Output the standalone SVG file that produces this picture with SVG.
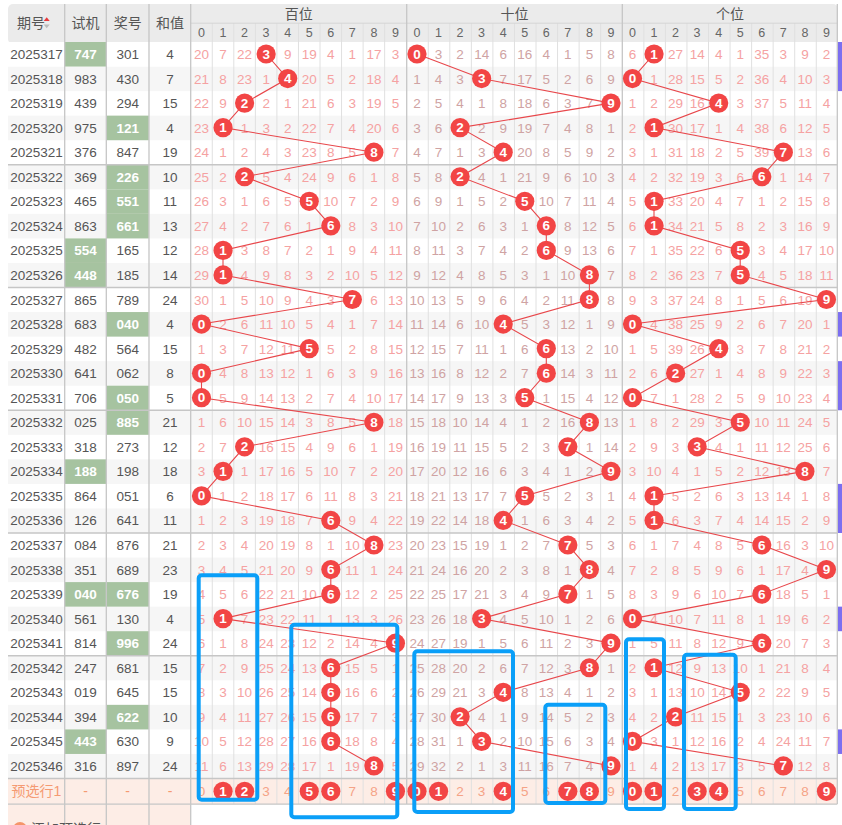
<svg xmlns="http://www.w3.org/2000/svg" width="842" height="825" viewBox="0 0 842 825">
<style>
text{font-family:"Liberation Sans","Noto Sans CJK SC",sans-serif}
.c{text-anchor:middle;dominant-baseline:central}
.hd{font-size:14px;fill:#555}
.hn{font-size:12.5px;fill:#666}
.info{font-size:13.5px;fill:#555}
.gw{fill:#fff;font-weight:bold}
.mh{font-size:13.5px;fill:#f5a2a2}
.mt{font-size:13.5px;fill:#cfa3a3}
.pv{font-size:13.5px;fill:#f5a386}
.pl{font-size:14px;fill:#f59a72}
.ball{fill:#f24545}
.ball text{fill:#fff;font-weight:bold;font-size:13.5px;text-anchor:middle;dominant-baseline:central}
.conn polyline{fill:none;stroke:#e8474b;stroke-width:1.1}
.blue rect{fill:none;stroke:#0a9ff8;stroke-width:4}
.grp{stroke:#c6c6c6;stroke-width:1.3}
</style>
<defs>
<circle id="bc" r="9.6" fill="#f24545"/>
</defs>
<rect x="0" y="0" width="842" height="825" fill="#fff"/>
<g id="grid">
<rect x="8" y="4" width="830" height="40" rx="5" fill="#ebebeb"/>
<g fill="#f6f6f6">
<rect x="8" y="66.55" width="830" height="24.55"/>
<rect x="8" y="115.65" width="830" height="24.55"/>
<rect x="8" y="164.75" width="830" height="24.55"/>
<rect x="8" y="213.85" width="830" height="24.55"/>
<rect x="8" y="262.95" width="830" height="24.55"/>
<rect x="8" y="312.05" width="830" height="24.55"/>
<rect x="8" y="361.15" width="830" height="24.55"/>
<rect x="8" y="410.25" width="830" height="24.55"/>
<rect x="8" y="459.35" width="830" height="24.55"/>
<rect x="8" y="508.45" width="830" height="24.55"/>
<rect x="8" y="557.55" width="830" height="24.55"/>
<rect x="8" y="606.65" width="830" height="24.55"/>
<rect x="8" y="655.75" width="830" height="24.55"/>
<rect x="8" y="704.85" width="830" height="24.55"/>
<rect x="8" y="753.95" width="830" height="24.55"/>
</g>
<rect x="8" y="42" width="830" height="24.55" fill="#fff"/>
<rect x="8" y="778.5" width="830" height="25.7" fill="#fdede6"/>
<rect x="8" y="804.2" width="182.7" height="21" fill="#fdede6"/>
<g fill="#a6c3a0">
<rect x="65" y="42" width="41" height="24.55"/>
<rect x="106.5" y="115.65" width="42.3" height="24.55"/>
<rect x="106.5" y="164.75" width="42.3" height="24.55"/>
<rect x="106.5" y="189.3" width="42.3" height="24.55"/>
<rect x="106.5" y="213.85" width="42.3" height="24.55"/>
<rect x="65" y="238.4" width="41" height="24.55"/>
<rect x="65" y="262.95" width="41" height="24.55"/>
<rect x="106.5" y="312.05" width="42.3" height="24.55"/>
<rect x="106.5" y="385.7" width="42.3" height="24.55"/>
<rect x="106.5" y="410.25" width="42.3" height="24.55"/>
<rect x="65" y="459.35" width="41" height="24.55"/>
<rect x="65" y="582.1" width="41" height="24.55"/>
<rect x="106.5" y="582.1" width="42.3" height="24.55"/>
<rect x="106.5" y="631.2" width="42.3" height="24.55"/>
<rect x="106.5" y="704.85" width="42.3" height="24.55"/>
<rect x="65" y="729.4" width="41" height="24.55"/>
</g>
<path fill="none" stroke="#e0e0e0" stroke-width="1" d="M212.25 23V804M233.8 23V804M255.35 23V804M276.9 23V804M298.45 23V804M320 23V804M341.55 23V804M363.1 23V804M384.65 23V804M428.25 23V804M449.8 23V804M471.35 23V804M492.9 23V804M514.45 23V804M536 23V804M557.55 23V804M579.1 23V804M600.65 23V804M643.85 23V804M665.4 23V804M686.95 23V804M708.5 23V804M730.05 23V804M751.6 23V804M773.15 23V804M794.7 23V804M816.25 23V804"/>
<path fill="none" stroke="#d6d6d6" stroke-width="1" d="M190.7 23.2H837.3"/>
<path fill="none" stroke="#c6c6c6" stroke-width="1.3" d="M64.7 4V825M106.3 4V825M149 4V825M190.7 4V825M406.7 4V804M622.3 4V804M837.3 4V804"/>
<path class="grp" fill="none" d="M8 164.75H837.3M8 287.5H837.3M8 410.25H837.3M8 533H837.3M8 655.75H837.3M8 778.5H837.3M8 804.2H837.3"/>
<g fill="#7c6ff0">
<rect x="838" y="42" width="4" height="49.1"/>
<rect x="838" y="312.05" width="4" height="24.55"/>
<rect x="838" y="361.15" width="4" height="49.1"/>
<rect x="838" y="483.9" width="4" height="49.1"/>
<rect x="838" y="606.65" width="4" height="24.55"/>
<rect x="838" y="729.4" width="4" height="24.55"/>
</g>
</g>
<g id="header">
<text class="c hd" x="31" y="23">期号</text>
<polygon points="43.7,21 49.7,21 46.7,17.3" fill="#e8393d"/>
<polygon points="43.7,24.5 49.7,24.5 46.7,28.2" fill="#bdbdbd"/>
<text class="c hd" x="85.5" y="23">试机</text>
<text class="c hd" x="127.7" y="23">奖号</text>
<text class="c hd" x="170" y="23">和值</text>
<text class="c hd" x="298.7" y="13.5">百位</text>
<text class="c hd" x="514.5" y="13.5">十位</text>
<text class="c hd" x="730" y="13.5">个位</text>
<text class="c hn" y="33"><tspan x="201.5">0</tspan><tspan x="223">1</tspan><tspan x="244.6">2</tspan><tspan x="266.1">3</tspan><tspan x="287.7">4</tspan><tspan x="309.2">5</tspan><tspan x="330.8">6</tspan><tspan x="352.3">7</tspan><tspan x="373.9">8</tspan><tspan x="395.4">9</tspan><tspan x="417">0</tspan><tspan x="438.5">1</tspan><tspan x="460.1">2</tspan><tspan x="481.6">3</tspan><tspan x="503.2">4</tspan><tspan x="524.7">5</tspan><tspan x="546.3">6</tspan><tspan x="567.8">7</tspan><tspan x="589.4">8</tspan><tspan x="610.9">9</tspan><tspan x="632.5">0</tspan><tspan x="654">1</tspan><tspan x="675.6">2</tspan><tspan x="697.1">3</tspan><tspan x="718.7">4</tspan><tspan x="740.2">5</tspan><tspan x="761.8">6</tspan><tspan x="783.3">7</tspan><tspan x="804.9">8</tspan><tspan x="826.4">9</tspan></text>
</g>
<g id="info" class="c info">
<text y="54"><tspan x="36.5">2025317</tspan><tspan x="85.5" class="gw">747</tspan><tspan x="127.7">301</tspan><tspan x="170">4</tspan></text>
<text y="78.55"><tspan x="36.5">2025318</tspan><tspan x="85.5">983</tspan><tspan x="127.7">430</tspan><tspan x="170">7</tspan></text>
<text y="103.1"><tspan x="36.5">2025319</tspan><tspan x="85.5">439</tspan><tspan x="127.7">294</tspan><tspan x="170">15</tspan></text>
<text y="127.65"><tspan x="36.5">2025320</tspan><tspan x="85.5">975</tspan><tspan x="127.7" class="gw">121</tspan><tspan x="170">4</tspan></text>
<text y="152.2"><tspan x="36.5">2025321</tspan><tspan x="85.5">376</tspan><tspan x="127.7">847</tspan><tspan x="170">19</tspan></text>
<text y="176.75"><tspan x="36.5">2025322</tspan><tspan x="85.5">369</tspan><tspan x="127.7" class="gw">226</tspan><tspan x="170">10</tspan></text>
<text y="201.3"><tspan x="36.5">2025323</tspan><tspan x="85.5">465</tspan><tspan x="127.7" class="gw">551</tspan><tspan x="170">11</tspan></text>
<text y="225.85"><tspan x="36.5">2025324</tspan><tspan x="85.5">863</tspan><tspan x="127.7" class="gw">661</tspan><tspan x="170">13</tspan></text>
<text y="250.4"><tspan x="36.5">2025325</tspan><tspan x="85.5" class="gw">554</tspan><tspan x="127.7">165</tspan><tspan x="170">12</tspan></text>
<text y="274.95"><tspan x="36.5">2025326</tspan><tspan x="85.5" class="gw">448</tspan><tspan x="127.7">185</tspan><tspan x="170">14</tspan></text>
<text y="299.5"><tspan x="36.5">2025327</tspan><tspan x="85.5">865</tspan><tspan x="127.7">789</tspan><tspan x="170">24</tspan></text>
<text y="324.05"><tspan x="36.5">2025328</tspan><tspan x="85.5">683</tspan><tspan x="127.7" class="gw">040</tspan><tspan x="170">4</tspan></text>
<text y="348.6"><tspan x="36.5">2025329</tspan><tspan x="85.5">482</tspan><tspan x="127.7">564</tspan><tspan x="170">15</tspan></text>
<text y="373.15"><tspan x="36.5">2025330</tspan><tspan x="85.5">641</tspan><tspan x="127.7">062</tspan><tspan x="170">8</tspan></text>
<text y="397.7"><tspan x="36.5">2025331</tspan><tspan x="85.5">706</tspan><tspan x="127.7" class="gw">050</tspan><tspan x="170">5</tspan></text>
<text y="422.25"><tspan x="36.5">2025332</tspan><tspan x="85.5">025</tspan><tspan x="127.7" class="gw">885</tspan><tspan x="170">21</tspan></text>
<text y="446.8"><tspan x="36.5">2025333</tspan><tspan x="85.5">318</tspan><tspan x="127.7">273</tspan><tspan x="170">12</tspan></text>
<text y="471.35"><tspan x="36.5">2025334</tspan><tspan x="85.5" class="gw">188</tspan><tspan x="127.7">198</tspan><tspan x="170">18</tspan></text>
<text y="495.9"><tspan x="36.5">2025335</tspan><tspan x="85.5">864</tspan><tspan x="127.7">051</tspan><tspan x="170">6</tspan></text>
<text y="520.45"><tspan x="36.5">2025336</tspan><tspan x="85.5">126</tspan><tspan x="127.7">641</tspan><tspan x="170">11</tspan></text>
<text y="545"><tspan x="36.5">2025337</tspan><tspan x="85.5">084</tspan><tspan x="127.7">876</tspan><tspan x="170">21</tspan></text>
<text y="569.55"><tspan x="36.5">2025338</tspan><tspan x="85.5">351</tspan><tspan x="127.7">689</tspan><tspan x="170">23</tspan></text>
<text y="594.1"><tspan x="36.5">2025339</tspan><tspan x="85.5" class="gw">040</tspan><tspan x="127.7" class="gw">676</tspan><tspan x="170">19</tspan></text>
<text y="618.65"><tspan x="36.5">2025340</tspan><tspan x="85.5">561</tspan><tspan x="127.7">130</tspan><tspan x="170">4</tspan></text>
<text y="643.2"><tspan x="36.5">2025341</tspan><tspan x="85.5">814</tspan><tspan x="127.7" class="gw">996</tspan><tspan x="170">24</tspan></text>
<text y="667.75"><tspan x="36.5">2025342</tspan><tspan x="85.5">247</tspan><tspan x="127.7">681</tspan><tspan x="170">15</tspan></text>
<text y="692.3"><tspan x="36.5">2025343</tspan><tspan x="85.5">019</tspan><tspan x="127.7">645</tspan><tspan x="170">15</tspan></text>
<text y="716.85"><tspan x="36.5">2025344</tspan><tspan x="85.5">394</tspan><tspan x="127.7" class="gw">622</tspan><tspan x="170">10</tspan></text>
<text y="741.4"><tspan x="36.5">2025345</tspan><tspan x="85.5" class="gw">443</tspan><tspan x="127.7">630</tspan><tspan x="170">9</tspan></text>
<text y="765.95"><tspan x="36.5">2025346</tspan><tspan x="85.5">316</tspan><tspan x="127.7">897</tspan><tspan x="170">24</tspan></text>
</g>
<g id="miss-bai" class="c mh" transform="translate(201.5 0)">
<text y="54"><tspan x="0">20</tspan><tspan x="21.55">7</tspan><tspan x="43.1">22</tspan><tspan x="86.2">9</tspan><tspan x="107.75">19</tspan><tspan x="129.3">4</tspan><tspan x="150.85">1</tspan><tspan x="172.4">17</tspan><tspan x="193.95">3</tspan></text>
<text y="78.55"><tspan x="0">21</tspan><tspan x="21.55">8</tspan><tspan x="43.1">23</tspan><tspan x="64.65">1</tspan><tspan x="107.75">20</tspan><tspan x="129.3">5</tspan><tspan x="150.85">2</tspan><tspan x="172.4">18</tspan><tspan x="193.95">4</tspan></text>
<text y="103.1"><tspan x="0">22</tspan><tspan x="21.55">9</tspan><tspan x="64.65">2</tspan><tspan x="86.2">1</tspan><tspan x="107.75">21</tspan><tspan x="129.3">6</tspan><tspan x="150.85">3</tspan><tspan x="172.4">19</tspan><tspan x="193.95">5</tspan></text>
<text y="127.65"><tspan x="0">23</tspan><tspan x="43.1">1</tspan><tspan x="64.65">3</tspan><tspan x="86.2">2</tspan><tspan x="107.75">22</tspan><tspan x="129.3">7</tspan><tspan x="150.85">4</tspan><tspan x="172.4">20</tspan><tspan x="193.95">6</tspan></text>
<text y="152.2"><tspan x="0">24</tspan><tspan x="21.55">1</tspan><tspan x="43.1">2</tspan><tspan x="64.65">4</tspan><tspan x="86.2">3</tspan><tspan x="107.75">23</tspan><tspan x="129.3">8</tspan><tspan x="150.85">5</tspan><tspan x="193.95">7</tspan></text>
<text y="176.75"><tspan x="0">25</tspan><tspan x="21.55">2</tspan><tspan x="64.65">5</tspan><tspan x="86.2">4</tspan><tspan x="107.75">24</tspan><tspan x="129.3">9</tspan><tspan x="150.85">6</tspan><tspan x="172.4">1</tspan><tspan x="193.95">8</tspan></text>
<text y="201.3"><tspan x="0">26</tspan><tspan x="21.55">3</tspan><tspan x="43.1">1</tspan><tspan x="64.65">6</tspan><tspan x="86.2">5</tspan><tspan x="129.3">10</tspan><tspan x="150.85">7</tspan><tspan x="172.4">2</tspan><tspan x="193.95">9</tspan></text>
<text y="225.85"><tspan x="0">27</tspan><tspan x="21.55">4</tspan><tspan x="43.1">2</tspan><tspan x="64.65">7</tspan><tspan x="86.2">6</tspan><tspan x="107.75">1</tspan><tspan x="150.85">8</tspan><tspan x="172.4">3</tspan><tspan x="193.95">10</tspan></text>
<text y="250.4"><tspan x="0">28</tspan><tspan x="43.1">3</tspan><tspan x="64.65">8</tspan><tspan x="86.2">7</tspan><tspan x="107.75">2</tspan><tspan x="129.3">1</tspan><tspan x="150.85">9</tspan><tspan x="172.4">4</tspan><tspan x="193.95">11</tspan></text>
<text y="274.95"><tspan x="0">29</tspan><tspan x="43.1">4</tspan><tspan x="64.65">9</tspan><tspan x="86.2">8</tspan><tspan x="107.75">3</tspan><tspan x="129.3">2</tspan><tspan x="150.85">10</tspan><tspan x="172.4">5</tspan><tspan x="193.95">12</tspan></text>
<text y="299.5"><tspan x="0">30</tspan><tspan x="21.55">1</tspan><tspan x="43.1">5</tspan><tspan x="64.65">10</tspan><tspan x="86.2">9</tspan><tspan x="107.75">4</tspan><tspan x="129.3">3</tspan><tspan x="172.4">6</tspan><tspan x="193.95">13</tspan></text>
<text y="324.05"><tspan x="21.55">2</tspan><tspan x="43.1">6</tspan><tspan x="64.65">11</tspan><tspan x="86.2">10</tspan><tspan x="107.75">5</tspan><tspan x="129.3">4</tspan><tspan x="150.85">1</tspan><tspan x="172.4">7</tspan><tspan x="193.95">14</tspan></text>
<text y="348.6"><tspan x="0">1</tspan><tspan x="21.55">3</tspan><tspan x="43.1">7</tspan><tspan x="64.65">12</tspan><tspan x="86.2">11</tspan><tspan x="129.3">5</tspan><tspan x="150.85">2</tspan><tspan x="172.4">8</tspan><tspan x="193.95">15</tspan></text>
<text y="373.15"><tspan x="21.55">4</tspan><tspan x="43.1">8</tspan><tspan x="64.65">13</tspan><tspan x="86.2">12</tspan><tspan x="107.75">1</tspan><tspan x="129.3">6</tspan><tspan x="150.85">3</tspan><tspan x="172.4">9</tspan><tspan x="193.95">16</tspan></text>
<text y="397.7"><tspan x="21.55">5</tspan><tspan x="43.1">9</tspan><tspan x="64.65">14</tspan><tspan x="86.2">13</tspan><tspan x="107.75">2</tspan><tspan x="129.3">7</tspan><tspan x="150.85">4</tspan><tspan x="172.4">10</tspan><tspan x="193.95">17</tspan></text>
<text y="422.25"><tspan x="0">1</tspan><tspan x="21.55">6</tspan><tspan x="43.1">10</tspan><tspan x="64.65">15</tspan><tspan x="86.2">14</tspan><tspan x="107.75">3</tspan><tspan x="129.3">8</tspan><tspan x="150.85">5</tspan><tspan x="193.95">18</tspan></text>
<text y="446.8"><tspan x="0">2</tspan><tspan x="21.55">7</tspan><tspan x="64.65">16</tspan><tspan x="86.2">15</tspan><tspan x="107.75">4</tspan><tspan x="129.3">9</tspan><tspan x="150.85">6</tspan><tspan x="172.4">1</tspan><tspan x="193.95">19</tspan></text>
<text y="471.35"><tspan x="0">3</tspan><tspan x="43.1">1</tspan><tspan x="64.65">17</tspan><tspan x="86.2">16</tspan><tspan x="107.75">5</tspan><tspan x="129.3">10</tspan><tspan x="150.85">7</tspan><tspan x="172.4">2</tspan><tspan x="193.95">20</tspan></text>
<text y="495.9"><tspan x="21.55">1</tspan><tspan x="43.1">2</tspan><tspan x="64.65">18</tspan><tspan x="86.2">17</tspan><tspan x="107.75">6</tspan><tspan x="129.3">11</tspan><tspan x="150.85">8</tspan><tspan x="172.4">3</tspan><tspan x="193.95">21</tspan></text>
<text y="520.45"><tspan x="0">1</tspan><tspan x="21.55">2</tspan><tspan x="43.1">3</tspan><tspan x="64.65">19</tspan><tspan x="86.2">18</tspan><tspan x="107.75">7</tspan><tspan x="150.85">9</tspan><tspan x="172.4">4</tspan><tspan x="193.95">22</tspan></text>
<text y="545"><tspan x="0">2</tspan><tspan x="21.55">3</tspan><tspan x="43.1">4</tspan><tspan x="64.65">20</tspan><tspan x="86.2">19</tspan><tspan x="107.75">8</tspan><tspan x="129.3">1</tspan><tspan x="150.85">10</tspan><tspan x="193.95">23</tspan></text>
<text y="569.55"><tspan x="0">3</tspan><tspan x="21.55">4</tspan><tspan x="43.1">5</tspan><tspan x="64.65">21</tspan><tspan x="86.2">20</tspan><tspan x="107.75">9</tspan><tspan x="150.85">11</tspan><tspan x="172.4">1</tspan><tspan x="193.95">24</tspan></text>
<text y="594.1"><tspan x="0">4</tspan><tspan x="21.55">5</tspan><tspan x="43.1">6</tspan><tspan x="64.65">22</tspan><tspan x="86.2">21</tspan><tspan x="107.75">10</tspan><tspan x="150.85">12</tspan><tspan x="172.4">2</tspan><tspan x="193.95">25</tspan></text>
<text y="618.65"><tspan x="0">5</tspan><tspan x="43.1">7</tspan><tspan x="64.65">23</tspan><tspan x="86.2">22</tspan><tspan x="107.75">11</tspan><tspan x="129.3">1</tspan><tspan x="150.85">13</tspan><tspan x="172.4">3</tspan><tspan x="193.95">26</tspan></text>
<text y="643.2"><tspan x="0">6</tspan><tspan x="21.55">1</tspan><tspan x="43.1">8</tspan><tspan x="64.65">24</tspan><tspan x="86.2">23</tspan><tspan x="107.75">12</tspan><tspan x="129.3">2</tspan><tspan x="150.85">14</tspan><tspan x="172.4">4</tspan></text>
<text y="667.75"><tspan x="0">7</tspan><tspan x="21.55">2</tspan><tspan x="43.1">9</tspan><tspan x="64.65">25</tspan><tspan x="86.2">24</tspan><tspan x="107.75">13</tspan><tspan x="150.85">15</tspan><tspan x="172.4">5</tspan><tspan x="193.95">1</tspan></text>
<text y="692.3"><tspan x="0">8</tspan><tspan x="21.55">3</tspan><tspan x="43.1">10</tspan><tspan x="64.65">26</tspan><tspan x="86.2">25</tspan><tspan x="107.75">14</tspan><tspan x="150.85">16</tspan><tspan x="172.4">6</tspan><tspan x="193.95">2</tspan></text>
<text y="716.85"><tspan x="0">9</tspan><tspan x="21.55">4</tspan><tspan x="43.1">11</tspan><tspan x="64.65">27</tspan><tspan x="86.2">26</tspan><tspan x="107.75">15</tspan><tspan x="150.85">17</tspan><tspan x="172.4">7</tspan><tspan x="193.95">3</tspan></text>
<text y="741.4"><tspan x="0">10</tspan><tspan x="21.55">5</tspan><tspan x="43.1">12</tspan><tspan x="64.65">28</tspan><tspan x="86.2">27</tspan><tspan x="107.75">16</tspan><tspan x="150.85">18</tspan><tspan x="172.4">8</tspan><tspan x="193.95">4</tspan></text>
<text y="765.95"><tspan x="0">11</tspan><tspan x="21.55">6</tspan><tspan x="43.1">13</tspan><tspan x="64.65">29</tspan><tspan x="86.2">28</tspan><tspan x="107.75">17</tspan><tspan x="129.3">1</tspan><tspan x="150.85">19</tspan><tspan x="193.95">5</tspan></text>
</g>
<g id="miss-shi" class="c mt" transform="translate(417 0)">
<text y="54"><tspan x="21.55">3</tspan><tspan x="43.1">2</tspan><tspan x="64.65">14</tspan><tspan x="86.2">6</tspan><tspan x="107.75">16</tspan><tspan x="129.3">4</tspan><tspan x="150.85">1</tspan><tspan x="172.4">5</tspan><tspan x="193.95">8</tspan></text>
<text y="78.55"><tspan x="0">1</tspan><tspan x="21.55">4</tspan><tspan x="43.1">3</tspan><tspan x="86.2">7</tspan><tspan x="107.75">17</tspan><tspan x="129.3">5</tspan><tspan x="150.85">2</tspan><tspan x="172.4">6</tspan><tspan x="193.95">9</tspan></text>
<text y="103.1"><tspan x="0">2</tspan><tspan x="21.55">5</tspan><tspan x="43.1">4</tspan><tspan x="64.65">1</tspan><tspan x="86.2">8</tspan><tspan x="107.75">18</tspan><tspan x="129.3">6</tspan><tspan x="150.85">3</tspan><tspan x="172.4">7</tspan></text>
<text y="127.65"><tspan x="0">3</tspan><tspan x="21.55">6</tspan><tspan x="64.65">2</tspan><tspan x="86.2">9</tspan><tspan x="107.75">19</tspan><tspan x="129.3">7</tspan><tspan x="150.85">4</tspan><tspan x="172.4">8</tspan><tspan x="193.95">1</tspan></text>
<text y="152.2"><tspan x="0">4</tspan><tspan x="21.55">7</tspan><tspan x="43.1">1</tspan><tspan x="64.65">3</tspan><tspan x="107.75">20</tspan><tspan x="129.3">8</tspan><tspan x="150.85">5</tspan><tspan x="172.4">9</tspan><tspan x="193.95">2</tspan></text>
<text y="176.75"><tspan x="0">5</tspan><tspan x="21.55">8</tspan><tspan x="64.65">4</tspan><tspan x="86.2">1</tspan><tspan x="107.75">21</tspan><tspan x="129.3">9</tspan><tspan x="150.85">6</tspan><tspan x="172.4">10</tspan><tspan x="193.95">3</tspan></text>
<text y="201.3"><tspan x="0">6</tspan><tspan x="21.55">9</tspan><tspan x="43.1">1</tspan><tspan x="64.65">5</tspan><tspan x="86.2">2</tspan><tspan x="129.3">10</tspan><tspan x="150.85">7</tspan><tspan x="172.4">11</tspan><tspan x="193.95">4</tspan></text>
<text y="225.85"><tspan x="0">7</tspan><tspan x="21.55">10</tspan><tspan x="43.1">2</tspan><tspan x="64.65">6</tspan><tspan x="86.2">3</tspan><tspan x="107.75">1</tspan><tspan x="150.85">8</tspan><tspan x="172.4">12</tspan><tspan x="193.95">5</tspan></text>
<text y="250.4"><tspan x="0">8</tspan><tspan x="21.55">11</tspan><tspan x="43.1">3</tspan><tspan x="64.65">7</tspan><tspan x="86.2">4</tspan><tspan x="107.75">2</tspan><tspan x="150.85">9</tspan><tspan x="172.4">13</tspan><tspan x="193.95">6</tspan></text>
<text y="274.95"><tspan x="0">9</tspan><tspan x="21.55">12</tspan><tspan x="43.1">4</tspan><tspan x="64.65">8</tspan><tspan x="86.2">5</tspan><tspan x="107.75">3</tspan><tspan x="129.3">1</tspan><tspan x="150.85">10</tspan><tspan x="193.95">7</tspan></text>
<text y="299.5"><tspan x="0">10</tspan><tspan x="21.55">13</tspan><tspan x="43.1">5</tspan><tspan x="64.65">9</tspan><tspan x="86.2">6</tspan><tspan x="107.75">4</tspan><tspan x="129.3">2</tspan><tspan x="150.85">11</tspan><tspan x="193.95">8</tspan></text>
<text y="324.05"><tspan x="0">11</tspan><tspan x="21.55">14</tspan><tspan x="43.1">6</tspan><tspan x="64.65">10</tspan><tspan x="107.75">5</tspan><tspan x="129.3">3</tspan><tspan x="150.85">12</tspan><tspan x="172.4">1</tspan><tspan x="193.95">9</tspan></text>
<text y="348.6"><tspan x="0">12</tspan><tspan x="21.55">15</tspan><tspan x="43.1">7</tspan><tspan x="64.65">11</tspan><tspan x="86.2">1</tspan><tspan x="107.75">6</tspan><tspan x="150.85">13</tspan><tspan x="172.4">2</tspan><tspan x="193.95">10</tspan></text>
<text y="373.15"><tspan x="0">13</tspan><tspan x="21.55">16</tspan><tspan x="43.1">8</tspan><tspan x="64.65">12</tspan><tspan x="86.2">2</tspan><tspan x="107.75">7</tspan><tspan x="150.85">14</tspan><tspan x="172.4">3</tspan><tspan x="193.95">11</tspan></text>
<text y="397.7"><tspan x="0">14</tspan><tspan x="21.55">17</tspan><tspan x="43.1">9</tspan><tspan x="64.65">13</tspan><tspan x="86.2">3</tspan><tspan x="129.3">1</tspan><tspan x="150.85">15</tspan><tspan x="172.4">4</tspan><tspan x="193.95">12</tspan></text>
<text y="422.25"><tspan x="0">15</tspan><tspan x="21.55">18</tspan><tspan x="43.1">10</tspan><tspan x="64.65">14</tspan><tspan x="86.2">4</tspan><tspan x="107.75">1</tspan><tspan x="129.3">2</tspan><tspan x="150.85">16</tspan><tspan x="193.95">13</tspan></text>
<text y="446.8"><tspan x="0">16</tspan><tspan x="21.55">19</tspan><tspan x="43.1">11</tspan><tspan x="64.65">15</tspan><tspan x="86.2">5</tspan><tspan x="107.75">2</tspan><tspan x="129.3">3</tspan><tspan x="172.4">1</tspan><tspan x="193.95">14</tspan></text>
<text y="471.35"><tspan x="0">17</tspan><tspan x="21.55">20</tspan><tspan x="43.1">12</tspan><tspan x="64.65">16</tspan><tspan x="86.2">6</tspan><tspan x="107.75">3</tspan><tspan x="129.3">4</tspan><tspan x="150.85">1</tspan><tspan x="172.4">2</tspan></text>
<text y="495.9"><tspan x="0">18</tspan><tspan x="21.55">21</tspan><tspan x="43.1">13</tspan><tspan x="64.65">17</tspan><tspan x="86.2">7</tspan><tspan x="129.3">5</tspan><tspan x="150.85">2</tspan><tspan x="172.4">3</tspan><tspan x="193.95">1</tspan></text>
<text y="520.45"><tspan x="0">19</tspan><tspan x="21.55">22</tspan><tspan x="43.1">14</tspan><tspan x="64.65">18</tspan><tspan x="107.75">1</tspan><tspan x="129.3">6</tspan><tspan x="150.85">3</tspan><tspan x="172.4">4</tspan><tspan x="193.95">2</tspan></text>
<text y="545"><tspan x="0">20</tspan><tspan x="21.55">23</tspan><tspan x="43.1">15</tspan><tspan x="64.65">19</tspan><tspan x="86.2">1</tspan><tspan x="107.75">2</tspan><tspan x="129.3">7</tspan><tspan x="172.4">5</tspan><tspan x="193.95">3</tspan></text>
<text y="569.55"><tspan x="0">21</tspan><tspan x="21.55">24</tspan><tspan x="43.1">16</tspan><tspan x="64.65">20</tspan><tspan x="86.2">2</tspan><tspan x="107.75">3</tspan><tspan x="129.3">8</tspan><tspan x="150.85">1</tspan><tspan x="193.95">4</tspan></text>
<text y="594.1"><tspan x="0">22</tspan><tspan x="21.55">25</tspan><tspan x="43.1">17</tspan><tspan x="64.65">21</tspan><tspan x="86.2">3</tspan><tspan x="107.75">4</tspan><tspan x="129.3">9</tspan><tspan x="172.4">1</tspan><tspan x="193.95">5</tspan></text>
<text y="618.65"><tspan x="0">23</tspan><tspan x="21.55">26</tspan><tspan x="43.1">18</tspan><tspan x="86.2">4</tspan><tspan x="107.75">5</tspan><tspan x="129.3">10</tspan><tspan x="150.85">1</tspan><tspan x="172.4">2</tspan><tspan x="193.95">6</tspan></text>
<text y="643.2"><tspan x="0">24</tspan><tspan x="21.55">27</tspan><tspan x="43.1">19</tspan><tspan x="64.65">1</tspan><tspan x="86.2">5</tspan><tspan x="107.75">6</tspan><tspan x="129.3">11</tspan><tspan x="150.85">2</tspan><tspan x="172.4">3</tspan></text>
<text y="667.75"><tspan x="0">25</tspan><tspan x="21.55">28</tspan><tspan x="43.1">20</tspan><tspan x="64.65">2</tspan><tspan x="86.2">6</tspan><tspan x="107.75">7</tspan><tspan x="129.3">12</tspan><tspan x="150.85">3</tspan><tspan x="193.95">1</tspan></text>
<text y="692.3"><tspan x="0">26</tspan><tspan x="21.55">29</tspan><tspan x="43.1">21</tspan><tspan x="64.65">3</tspan><tspan x="107.75">8</tspan><tspan x="129.3">13</tspan><tspan x="150.85">4</tspan><tspan x="172.4">1</tspan><tspan x="193.95">2</tspan></text>
<text y="716.85"><tspan x="0">27</tspan><tspan x="21.55">30</tspan><tspan x="64.65">4</tspan><tspan x="86.2">1</tspan><tspan x="107.75">9</tspan><tspan x="129.3">14</tspan><tspan x="150.85">5</tspan><tspan x="172.4">2</tspan><tspan x="193.95">3</tspan></text>
<text y="741.4"><tspan x="0">28</tspan><tspan x="21.55">31</tspan><tspan x="43.1">1</tspan><tspan x="86.2">2</tspan><tspan x="107.75">10</tspan><tspan x="129.3">15</tspan><tspan x="150.85">6</tspan><tspan x="172.4">3</tspan><tspan x="193.95">4</tspan></text>
<text y="765.95"><tspan x="0">29</tspan><tspan x="21.55">32</tspan><tspan x="43.1">2</tspan><tspan x="64.65">1</tspan><tspan x="86.2">3</tspan><tspan x="107.75">11</tspan><tspan x="129.3">16</tspan><tspan x="150.85">7</tspan><tspan x="172.4">4</tspan></text>
</g>
<g id="miss-ge" class="c mh" transform="translate(632.5 0)">
<text y="54"><tspan x="0">6</tspan><tspan x="43.1">27</tspan><tspan x="64.65">14</tspan><tspan x="86.2">4</tspan><tspan x="107.75">1</tspan><tspan x="129.3">35</tspan><tspan x="150.85">3</tspan><tspan x="172.4">9</tspan><tspan x="193.95">2</tspan></text>
<text y="78.55"><tspan x="21.55">1</tspan><tspan x="43.1">28</tspan><tspan x="64.65">15</tspan><tspan x="86.2">5</tspan><tspan x="107.75">2</tspan><tspan x="129.3">36</tspan><tspan x="150.85">4</tspan><tspan x="172.4">10</tspan><tspan x="193.95">3</tspan></text>
<text y="103.1"><tspan x="0">1</tspan><tspan x="21.55">2</tspan><tspan x="43.1">29</tspan><tspan x="64.65">16</tspan><tspan x="107.75">3</tspan><tspan x="129.3">37</tspan><tspan x="150.85">5</tspan><tspan x="172.4">11</tspan><tspan x="193.95">4</tspan></text>
<text y="127.65"><tspan x="0">2</tspan><tspan x="43.1">30</tspan><tspan x="64.65">17</tspan><tspan x="86.2">1</tspan><tspan x="107.75">4</tspan><tspan x="129.3">38</tspan><tspan x="150.85">6</tspan><tspan x="172.4">12</tspan><tspan x="193.95">5</tspan></text>
<text y="152.2"><tspan x="0">3</tspan><tspan x="21.55">1</tspan><tspan x="43.1">31</tspan><tspan x="64.65">18</tspan><tspan x="86.2">2</tspan><tspan x="107.75">5</tspan><tspan x="129.3">39</tspan><tspan x="172.4">13</tspan><tspan x="193.95">6</tspan></text>
<text y="176.75"><tspan x="0">4</tspan><tspan x="21.55">2</tspan><tspan x="43.1">32</tspan><tspan x="64.65">19</tspan><tspan x="86.2">3</tspan><tspan x="107.75">6</tspan><tspan x="150.85">1</tspan><tspan x="172.4">14</tspan><tspan x="193.95">7</tspan></text>
<text y="201.3"><tspan x="0">5</tspan><tspan x="43.1">33</tspan><tspan x="64.65">20</tspan><tspan x="86.2">4</tspan><tspan x="107.75">7</tspan><tspan x="129.3">1</tspan><tspan x="150.85">2</tspan><tspan x="172.4">15</tspan><tspan x="193.95">8</tspan></text>
<text y="225.85"><tspan x="0">6</tspan><tspan x="43.1">34</tspan><tspan x="64.65">21</tspan><tspan x="86.2">5</tspan><tspan x="107.75">8</tspan><tspan x="129.3">2</tspan><tspan x="150.85">3</tspan><tspan x="172.4">16</tspan><tspan x="193.95">9</tspan></text>
<text y="250.4"><tspan x="0">7</tspan><tspan x="21.55">1</tspan><tspan x="43.1">35</tspan><tspan x="64.65">22</tspan><tspan x="86.2">6</tspan><tspan x="129.3">3</tspan><tspan x="150.85">4</tspan><tspan x="172.4">17</tspan><tspan x="193.95">10</tspan></text>
<text y="274.95"><tspan x="0">8</tspan><tspan x="21.55">2</tspan><tspan x="43.1">36</tspan><tspan x="64.65">23</tspan><tspan x="86.2">7</tspan><tspan x="129.3">4</tspan><tspan x="150.85">5</tspan><tspan x="172.4">18</tspan><tspan x="193.95">11</tspan></text>
<text y="299.5"><tspan x="0">9</tspan><tspan x="21.55">3</tspan><tspan x="43.1">37</tspan><tspan x="64.65">24</tspan><tspan x="86.2">8</tspan><tspan x="107.75">1</tspan><tspan x="129.3">5</tspan><tspan x="150.85">6</tspan><tspan x="172.4">19</tspan></text>
<text y="324.05"><tspan x="21.55">4</tspan><tspan x="43.1">38</tspan><tspan x="64.65">25</tspan><tspan x="86.2">9</tspan><tspan x="107.75">2</tspan><tspan x="129.3">6</tspan><tspan x="150.85">7</tspan><tspan x="172.4">20</tspan><tspan x="193.95">1</tspan></text>
<text y="348.6"><tspan x="0">1</tspan><tspan x="21.55">5</tspan><tspan x="43.1">39</tspan><tspan x="64.65">26</tspan><tspan x="107.75">3</tspan><tspan x="129.3">7</tspan><tspan x="150.85">8</tspan><tspan x="172.4">21</tspan><tspan x="193.95">2</tspan></text>
<text y="373.15"><tspan x="0">2</tspan><tspan x="21.55">6</tspan><tspan x="64.65">27</tspan><tspan x="86.2">1</tspan><tspan x="107.75">4</tspan><tspan x="129.3">8</tspan><tspan x="150.85">9</tspan><tspan x="172.4">22</tspan><tspan x="193.95">3</tspan></text>
<text y="397.7"><tspan x="21.55">7</tspan><tspan x="43.1">1</tspan><tspan x="64.65">28</tspan><tspan x="86.2">2</tspan><tspan x="107.75">5</tspan><tspan x="129.3">9</tspan><tspan x="150.85">10</tspan><tspan x="172.4">23</tspan><tspan x="193.95">4</tspan></text>
<text y="422.25"><tspan x="0">1</tspan><tspan x="21.55">8</tspan><tspan x="43.1">2</tspan><tspan x="64.65">29</tspan><tspan x="86.2">3</tspan><tspan x="129.3">10</tspan><tspan x="150.85">11</tspan><tspan x="172.4">24</tspan><tspan x="193.95">5</tspan></text>
<text y="446.8"><tspan x="0">2</tspan><tspan x="21.55">9</tspan><tspan x="43.1">3</tspan><tspan x="86.2">4</tspan><tspan x="107.75">1</tspan><tspan x="129.3">11</tspan><tspan x="150.85">12</tspan><tspan x="172.4">25</tspan><tspan x="193.95">6</tspan></text>
<text y="471.35"><tspan x="0">3</tspan><tspan x="21.55">10</tspan><tspan x="43.1">4</tspan><tspan x="64.65">1</tspan><tspan x="86.2">5</tspan><tspan x="107.75">2</tspan><tspan x="129.3">12</tspan><tspan x="150.85">13</tspan><tspan x="193.95">7</tspan></text>
<text y="495.9"><tspan x="0">4</tspan><tspan x="43.1">5</tspan><tspan x="64.65">2</tspan><tspan x="86.2">6</tspan><tspan x="107.75">3</tspan><tspan x="129.3">13</tspan><tspan x="150.85">14</tspan><tspan x="172.4">1</tspan><tspan x="193.95">8</tspan></text>
<text y="520.45"><tspan x="0">5</tspan><tspan x="43.1">6</tspan><tspan x="64.65">3</tspan><tspan x="86.2">7</tspan><tspan x="107.75">4</tspan><tspan x="129.3">14</tspan><tspan x="150.85">15</tspan><tspan x="172.4">2</tspan><tspan x="193.95">9</tspan></text>
<text y="545"><tspan x="0">6</tspan><tspan x="21.55">1</tspan><tspan x="43.1">7</tspan><tspan x="64.65">4</tspan><tspan x="86.2">8</tspan><tspan x="107.75">5</tspan><tspan x="150.85">16</tspan><tspan x="172.4">3</tspan><tspan x="193.95">10</tspan></text>
<text y="569.55"><tspan x="0">7</tspan><tspan x="21.55">2</tspan><tspan x="43.1">8</tspan><tspan x="64.65">5</tspan><tspan x="86.2">9</tspan><tspan x="107.75">6</tspan><tspan x="129.3">1</tspan><tspan x="150.85">17</tspan><tspan x="172.4">4</tspan></text>
<text y="594.1"><tspan x="0">8</tspan><tspan x="21.55">3</tspan><tspan x="43.1">9</tspan><tspan x="64.65">6</tspan><tspan x="86.2">10</tspan><tspan x="107.75">7</tspan><tspan x="150.85">18</tspan><tspan x="172.4">5</tspan><tspan x="193.95">1</tspan></text>
<text y="618.65"><tspan x="21.55">4</tspan><tspan x="43.1">10</tspan><tspan x="64.65">7</tspan><tspan x="86.2">11</tspan><tspan x="107.75">8</tspan><tspan x="129.3">1</tspan><tspan x="150.85">19</tspan><tspan x="172.4">6</tspan><tspan x="193.95">2</tspan></text>
<text y="643.2"><tspan x="0">1</tspan><tspan x="21.55">5</tspan><tspan x="43.1">11</tspan><tspan x="64.65">8</tspan><tspan x="86.2">12</tspan><tspan x="107.75">9</tspan><tspan x="150.85">20</tspan><tspan x="172.4">7</tspan><tspan x="193.95">3</tspan></text>
<text y="667.75"><tspan x="0">2</tspan><tspan x="43.1">12</tspan><tspan x="64.65">9</tspan><tspan x="86.2">13</tspan><tspan x="107.75">10</tspan><tspan x="129.3">1</tspan><tspan x="150.85">21</tspan><tspan x="172.4">8</tspan><tspan x="193.95">4</tspan></text>
<text y="692.3"><tspan x="0">3</tspan><tspan x="21.55">1</tspan><tspan x="43.1">13</tspan><tspan x="64.65">10</tspan><tspan x="86.2">14</tspan><tspan x="129.3">2</tspan><tspan x="150.85">22</tspan><tspan x="172.4">9</tspan><tspan x="193.95">5</tspan></text>
<text y="716.85"><tspan x="0">4</tspan><tspan x="21.55">2</tspan><tspan x="64.65">11</tspan><tspan x="86.2">15</tspan><tspan x="107.75">1</tspan><tspan x="129.3">3</tspan><tspan x="150.85">23</tspan><tspan x="172.4">10</tspan><tspan x="193.95">6</tspan></text>
<text y="741.4"><tspan x="21.55">3</tspan><tspan x="43.1">1</tspan><tspan x="64.65">12</tspan><tspan x="86.2">16</tspan><tspan x="107.75">2</tspan><tspan x="129.3">4</tspan><tspan x="150.85">24</tspan><tspan x="172.4">11</tspan><tspan x="193.95">7</tspan></text>
<text y="765.95"><tspan x="0">1</tspan><tspan x="21.55">4</tspan><tspan x="43.1">2</tspan><tspan x="64.65">13</tspan><tspan x="86.2">17</tspan><tspan x="107.75">3</tspan><tspan x="129.3">5</tspan><tspan x="172.4">12</tspan><tspan x="193.95">8</tspan></text>
</g>
<g id="preselect">
<text class="c pl" x="36.5" y="791.3">预选行1</text>
<text class="c pl" y="791.3"><tspan x="85.5">-</tspan><tspan x="127.7">-</tspan><tspan x="170">-</tspan></text>
<text class="c pv" y="791.3"><tspan x="201.5">0</tspan><tspan x="266.1">3</tspan><tspan x="287.7">4</tspan><tspan x="352.3">7</tspan><tspan x="373.9">8</tspan><tspan x="460.1">2</tspan><tspan x="481.6">3</tspan><tspan x="524.7">5</tspan><tspan x="546.3">6</tspan><tspan x="610.9">9</tspan><tspan x="675.6">2</tspan><tspan x="740.2">5</tspan><tspan x="761.8">6</tspan><tspan x="783.3">7</tspan><tspan x="804.9">8</tspan></text>
</g>
<g id="add-row">
<circle cx="20" cy="829" r="7" fill="#f5956a"/>
<text x="31" y="834" font-size="14" fill="#555">添加预选行</text>
</g>
<g id="connectors" class="conn">
<polyline points="266.1,54 287.7,78.55 244.6,103.1 223,127.65 373.9,152.2 244.6,176.75 309.2,201.3 330.8,225.85 223,250.4 223,274.95 352.3,299.5 201.5,324.05 309.2,348.6 201.5,373.15 201.5,397.7 373.9,422.25 244.6,446.8 223,471.35 201.5,495.9 330.8,520.45 373.9,545 330.8,569.55 330.8,594.1 223,618.65 395.4,643.2 330.8,667.75 330.8,692.3 330.8,716.85 330.8,741.4 373.9,765.95"/>
<polyline points="417,54 481.6,78.55 610.9,103.1 460.1,127.65 503.2,152.2 460.1,176.75 524.7,201.3 546.3,225.85 546.3,250.4 589.4,274.95 589.4,299.5 503.2,324.05 546.3,348.6 546.3,373.15 524.7,397.7 589.4,422.25 567.8,446.8 610.9,471.35 524.7,495.9 503.2,520.45 567.8,545 589.4,569.55 567.8,594.1 481.6,618.65 610.9,643.2 589.4,667.75 503.2,692.3 460.1,716.85 481.6,741.4 610.9,765.95"/>
<polyline points="654,54 632.5,78.55 718.7,103.1 654,127.65 783.3,152.2 761.8,176.75 654,201.3 654,225.85 740.2,250.4 740.2,274.95 826.4,299.5 632.5,324.05 718.7,348.6 675.6,373.15 632.5,397.7 740.2,422.25 697.1,446.8 804.9,471.35 654,495.9 654,520.45 761.8,545 826.4,569.55 761.8,594.1 632.5,618.65 761.8,643.2 654,667.75 740.2,692.3 675.6,716.85 632.5,741.4 783.3,765.95"/>
</g>
<g id="balls-bai" class="ball" transform="translate(201.5 0)">
<g id="bb0" transform="translate(64.65 54)"><use href="#bc"/><text>3</text></g>
<g id="bb1" transform="translate(86.2 78.55)"><use href="#bc"/><text>4</text></g>
<g id="bb2" transform="translate(43.1 103.1)"><use href="#bc"/><text>2</text></g>
<g id="bb3" transform="translate(21.55 127.65)"><use href="#bc"/><text>1</text></g>
<g id="bb4" transform="translate(172.4 152.2)"><use href="#bc"/><text>8</text></g>
<g id="bb5" transform="translate(43.1 176.75)"><use href="#bc"/><text>2</text></g>
<g id="bb6" transform="translate(107.75 201.3)"><use href="#bc"/><text>5</text></g>
<g id="bb7" transform="translate(129.3 225.85)"><use href="#bc"/><text>6</text></g>
<g id="bb8" transform="translate(21.55 250.4)"><use href="#bc"/><text>1</text></g>
<g id="bb9" transform="translate(21.55 274.95)"><use href="#bc"/><text>1</text></g>
<g id="bb10" transform="translate(150.85 299.5)"><use href="#bc"/><text>7</text></g>
<g id="bb11" transform="translate(0 324.05)"><use href="#bc"/><text>0</text></g>
<g id="bb12" transform="translate(107.75 348.6)"><use href="#bc"/><text>5</text></g>
<g id="bb13" transform="translate(0 373.15)"><use href="#bc"/><text>0</text></g>
<g id="bb14" transform="translate(0 397.7)"><use href="#bc"/><text>0</text></g>
<g id="bb15" transform="translate(172.4 422.25)"><use href="#bc"/><text>8</text></g>
<g id="bb16" transform="translate(43.1 446.8)"><use href="#bc"/><text>2</text></g>
<g id="bb17" transform="translate(21.55 471.35)"><use href="#bc"/><text>1</text></g>
<g id="bb18" transform="translate(0 495.9)"><use href="#bc"/><text>0</text></g>
<g id="bb19" transform="translate(129.3 520.45)"><use href="#bc"/><text>6</text></g>
<g id="bb20" transform="translate(172.4 545)"><use href="#bc"/><text>8</text></g>
<g id="bb21" transform="translate(129.3 569.55)"><use href="#bc"/><text>6</text></g>
<g id="bb22" transform="translate(129.3 594.1)"><use href="#bc"/><text>6</text></g>
<g id="bb23" transform="translate(21.55 618.65)"><use href="#bc"/><text>1</text></g>
<g id="bb24" transform="translate(193.95 643.2)"><use href="#bc"/><text>9</text></g>
<g id="bb25" transform="translate(129.3 667.75)"><use href="#bc"/><text>6</text></g>
<g id="bb26" transform="translate(129.3 692.3)"><use href="#bc"/><text>6</text></g>
<g id="bb27" transform="translate(129.3 716.85)"><use href="#bc"/><text>6</text></g>
<g id="bb28" transform="translate(129.3 741.4)"><use href="#bc"/><text>6</text></g>
<g id="bb29" transform="translate(172.4 765.95)"><use href="#bc"/><text>8</text></g>
<g id="bbp1" transform="translate(21.55 791.3)"><use href="#bc"/><text>1</text></g>
<g id="bbp2" transform="translate(43.1 791.3)"><use href="#bc"/><text>2</text></g>
<g id="bbp5" transform="translate(107.75 791.3)"><use href="#bc"/><text>5</text></g>
<g id="bbp6" transform="translate(129.3 791.3)"><use href="#bc"/><text>6</text></g>
<g id="bbp9" transform="translate(193.95 791.3)"><use href="#bc"/><text>9</text></g>
</g>
<g id="balls-shi" class="ball" transform="translate(417 0)">
<g id="bs0" transform="translate(0 54)"><use href="#bc"/><text>0</text></g>
<g id="bs1" transform="translate(64.65 78.55)"><use href="#bc"/><text>3</text></g>
<g id="bs2" transform="translate(193.95 103.1)"><use href="#bc"/><text>9</text></g>
<g id="bs3" transform="translate(43.1 127.65)"><use href="#bc"/><text>2</text></g>
<g id="bs4" transform="translate(86.2 152.2)"><use href="#bc"/><text>4</text></g>
<g id="bs5" transform="translate(43.1 176.75)"><use href="#bc"/><text>2</text></g>
<g id="bs6" transform="translate(107.75 201.3)"><use href="#bc"/><text>5</text></g>
<g id="bs7" transform="translate(129.3 225.85)"><use href="#bc"/><text>6</text></g>
<g id="bs8" transform="translate(129.3 250.4)"><use href="#bc"/><text>6</text></g>
<g id="bs9" transform="translate(172.4 274.95)"><use href="#bc"/><text>8</text></g>
<g id="bs10" transform="translate(172.4 299.5)"><use href="#bc"/><text>8</text></g>
<g id="bs11" transform="translate(86.2 324.05)"><use href="#bc"/><text>4</text></g>
<g id="bs12" transform="translate(129.3 348.6)"><use href="#bc"/><text>6</text></g>
<g id="bs13" transform="translate(129.3 373.15)"><use href="#bc"/><text>6</text></g>
<g id="bs14" transform="translate(107.75 397.7)"><use href="#bc"/><text>5</text></g>
<g id="bs15" transform="translate(172.4 422.25)"><use href="#bc"/><text>8</text></g>
<g id="bs16" transform="translate(150.85 446.8)"><use href="#bc"/><text>7</text></g>
<g id="bs17" transform="translate(193.95 471.35)"><use href="#bc"/><text>9</text></g>
<g id="bs18" transform="translate(107.75 495.9)"><use href="#bc"/><text>5</text></g>
<g id="bs19" transform="translate(86.2 520.45)"><use href="#bc"/><text>4</text></g>
<g id="bs20" transform="translate(150.85 545)"><use href="#bc"/><text>7</text></g>
<g id="bs21" transform="translate(172.4 569.55)"><use href="#bc"/><text>8</text></g>
<g id="bs22" transform="translate(150.85 594.1)"><use href="#bc"/><text>7</text></g>
<g id="bs23" transform="translate(64.65 618.65)"><use href="#bc"/><text>3</text></g>
<g id="bs24" transform="translate(193.95 643.2)"><use href="#bc"/><text>9</text></g>
<g id="bs25" transform="translate(172.4 667.75)"><use href="#bc"/><text>8</text></g>
<g id="bs26" transform="translate(86.2 692.3)"><use href="#bc"/><text>4</text></g>
<g id="bs27" transform="translate(43.1 716.85)"><use href="#bc"/><text>2</text></g>
<g id="bs28" transform="translate(64.65 741.4)"><use href="#bc"/><text>3</text></g>
<g id="bs29" transform="translate(193.95 765.95)"><use href="#bc"/><text>9</text></g>
<g id="bsp0" transform="translate(0 791.3)"><use href="#bc"/><text>0</text></g>
<g id="bsp1" transform="translate(21.55 791.3)"><use href="#bc"/><text>1</text></g>
<g id="bsp4" transform="translate(86.2 791.3)"><use href="#bc"/><text>4</text></g>
<g id="bsp7" transform="translate(150.85 791.3)"><use href="#bc"/><text>7</text></g>
<g id="bsp8" transform="translate(172.4 791.3)"><use href="#bc"/><text>8</text></g>
</g>
<g id="balls-ge" class="ball" transform="translate(632.5 0)">
<g id="bg0" transform="translate(21.55 54)"><use href="#bc"/><text>1</text></g>
<g id="bg1" transform="translate(0 78.55)"><use href="#bc"/><text>0</text></g>
<g id="bg2" transform="translate(86.2 103.1)"><use href="#bc"/><text>4</text></g>
<g id="bg3" transform="translate(21.55 127.65)"><use href="#bc"/><text>1</text></g>
<g id="bg4" transform="translate(150.85 152.2)"><use href="#bc"/><text>7</text></g>
<g id="bg5" transform="translate(129.3 176.75)"><use href="#bc"/><text>6</text></g>
<g id="bg6" transform="translate(21.55 201.3)"><use href="#bc"/><text>1</text></g>
<g id="bg7" transform="translate(21.55 225.85)"><use href="#bc"/><text>1</text></g>
<g id="bg8" transform="translate(107.75 250.4)"><use href="#bc"/><text>5</text></g>
<g id="bg9" transform="translate(107.75 274.95)"><use href="#bc"/><text>5</text></g>
<g id="bg10" transform="translate(193.95 299.5)"><use href="#bc"/><text>9</text></g>
<g id="bg11" transform="translate(0 324.05)"><use href="#bc"/><text>0</text></g>
<g id="bg12" transform="translate(86.2 348.6)"><use href="#bc"/><text>4</text></g>
<g id="bg13" transform="translate(43.1 373.15)"><use href="#bc"/><text>2</text></g>
<g id="bg14" transform="translate(0 397.7)"><use href="#bc"/><text>0</text></g>
<g id="bg15" transform="translate(107.75 422.25)"><use href="#bc"/><text>5</text></g>
<g id="bg16" transform="translate(64.65 446.8)"><use href="#bc"/><text>3</text></g>
<g id="bg17" transform="translate(172.4 471.35)"><use href="#bc"/><text>8</text></g>
<g id="bg18" transform="translate(21.55 495.9)"><use href="#bc"/><text>1</text></g>
<g id="bg19" transform="translate(21.55 520.45)"><use href="#bc"/><text>1</text></g>
<g id="bg20" transform="translate(129.3 545)"><use href="#bc"/><text>6</text></g>
<g id="bg21" transform="translate(193.95 569.55)"><use href="#bc"/><text>9</text></g>
<g id="bg22" transform="translate(129.3 594.1)"><use href="#bc"/><text>6</text></g>
<g id="bg23" transform="translate(0 618.65)"><use href="#bc"/><text>0</text></g>
<g id="bg24" transform="translate(129.3 643.2)"><use href="#bc"/><text>6</text></g>
<g id="bg25" transform="translate(21.55 667.75)"><use href="#bc"/><text>1</text></g>
<g id="bg26" transform="translate(107.75 692.3)"><use href="#bc"/><text>5</text></g>
<g id="bg27" transform="translate(43.1 716.85)"><use href="#bc"/><text>2</text></g>
<g id="bg28" transform="translate(0 741.4)"><use href="#bc"/><text>0</text></g>
<g id="bg29" transform="translate(150.85 765.95)"><use href="#bc"/><text>7</text></g>
<g id="bgp0" transform="translate(0 791.3)"><use href="#bc"/><text>0</text></g>
<g id="bgp1" transform="translate(21.55 791.3)"><use href="#bc"/><text>1</text></g>
<g id="bgp3" transform="translate(64.65 791.3)"><use href="#bc"/><text>3</text></g>
<g id="bgp4" transform="translate(86.2 791.3)"><use href="#bc"/><text>4</text></g>
<g id="bgp9" transform="translate(193.95 791.3)"><use href="#bc"/><text>9</text></g>
</g>
<g id="highlights" class="blue">
<rect x="198.7" y="575.3" width="58.6" height="224.4" rx="3"/>
<rect x="291.3" y="624.7" width="106" height="192.6" rx="3"/>
<rect x="414.3" y="651.3" width="98.7" height="160.7" rx="3"/>
<rect x="545.3" y="704.7" width="60" height="98.3" rx="3"/>
<rect x="626" y="639.3" width="38" height="169.7" rx="3"/>
<rect x="684" y="654.7" width="51.7" height="154.3" rx="3"/>
</g>
</svg>
